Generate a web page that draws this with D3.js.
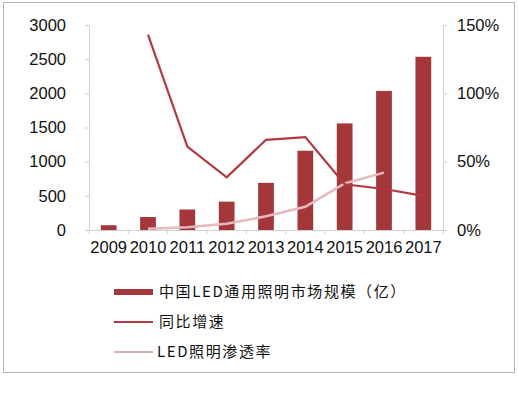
<!DOCTYPE html>
<html>
<head>
<meta charset="utf-8">
<script src="https://cdn.jsdelivr.net/npm/d3@7"></script>
<style>
  body { margin: 0; background: #fff; }
  svg text { font-family: "Liberation Sans", Arial, sans-serif; fill: #111; }
  .legend text { font-family: "Noto Sans CJK SC", sans-serif; letter-spacing: 1.6px; }
</style>
</head>
<body>
<svg id="chart" width="518" height="399"></svg>
<script>
// data
const years = ["2009", "2010", "2011", "2012", "2013", "2014", "2015", "2016", "2017"];
const marketSize = [70, 190, 300, 415, 690, 1160, 1560, 2035, 2535];      // 亿
const growth = [null, 143, 61, 38.5, 66, 68, 33.5, 30, 25];                // %
const penetration = [null, 1, 2, 4.5, 10, 17, 34, 42, null];              // %
const leftTicks = [0, 500, 1000, 1500, 2000, 2500, 3000];
const rightTicks = [0, 50, 100, 150];

const svg = d3.select("#chart");
const x0 = 89, x1 = 443, yTop = 25, yBot = 230;

// outer frame
svg.append("rect")
  .attr("x", 3.5).attr("y", 2.5).attr("width", 511).attr("height", 370)
  .attr("fill", "none").attr("stroke", "#b5b5b5");

const x = d3.scaleBand().domain(years).range([x0, x1]).paddingInner(0.6).paddingOuter(0.3);
const yL = d3.scaleLinear().domain([0, 3000]).range([yBot, yTop]);
const yR = d3.scaleLinear().domain([0, 150]).range([yBot, yTop]);
const cx = d => x(d) + x.bandwidth() / 2;

// left axis
const gl = svg.append("g").attr("transform", `translate(${x0},0)`)
  .call(d3.axisLeft(yL).tickValues(leftTicks).tickFormat(d3.format("d")).tickSize(4).tickPadding(19));
gl.selectAll("line, path").attr("stroke", "#d0d0d0");
gl.selectAll("text").style("font-size", "16.5px").attr("fill", "#111");

// right axis
const gr = svg.append("g").attr("transform", `translate(${x1},0)`)
  .call(d3.axisRight(yR).tickValues(rightTicks).tickFormat(d => d + "%").tickSize(4).tickPadding(10));
gr.selectAll("line, path").attr("stroke", "#d0d0d0");
gr.selectAll("text").style("font-size", "16.5px").attr("fill", "#111");

// bottom axis
const gb = svg.append("g").attr("transform", `translate(0,${yBot})`)
  .call(d3.axisBottom(x).tickSize(0).tickPadding(11));
gb.select("path").attr("stroke", "#d0d0d0");
gb.selectAll("text").style("font-size", "16.5px").attr("fill", "#111");
// small separator ticks between categories
svg.append("g").selectAll("line")
  .data(d3.range(years.length + 1))
  .join("line")
  .attr("x1", i => x0 + i * x.step()).attr("x2", i => x0 + i * x.step())
  .attr("y1", yBot).attr("y2", yBot + 4)
  .attr("stroke", "#d0d0d0");

// bars
svg.append("g").selectAll("rect")
  .data(years)
  .join("rect")
  .attr("x", d => x(d))
  .attr("width", x.bandwidth())
  .attr("y", (d, i) => yL(marketSize[i]))
  .attr("height", (d, i) => yBot - yL(marketSize[i]))
  .attr("fill", "#a3373a");

// lines
const line = d3.line()
  .defined(d => d[1] != null)
  .x(d => cx(d[0]))
  .y(d => yR(d[1]));

svg.append("path")
  .datum(years.map((d, i) => [d, penetration[i]]))
  .attr("d", line)
  .attr("fill", "none")
  .attr("stroke", "#e7b9bc")
  .attr("stroke-width", 2.5);

svg.append("path")
  .datum(years.map((d, i) => [d, growth[i]]))
  .attr("d", line)
  .attr("fill", "none")
  .attr("stroke", "#b4383f")
  .attr("stroke-width", 2.2);

// legend
const legend = svg.append("g").attr("class", "legend");
legend.append("rect").attr("x", 114).attr("y", 289).attr("width", 39).attr("height", 6).attr("fill", "#a3373a");
legend.append("line").attr("x1", 114).attr("x2", 153).attr("y1", 322).attr("y2", 322)
  .attr("stroke", "#b4383f").attr("stroke-width", 2);
legend.append("line").attr("x1", 114).attr("x2", 153).attr("y1", 352).attr("y2", 352)
  .attr("stroke", "#d9aeb1").attr("stroke-width", 2);

const legendLabels = ["中国LED通用照明市场规模（亿）", "同比增速", "LED照明渗透率"];
const legendY = [292, 322, 352];
legend.selectAll("text")
  .data(legendLabels)
  .join("text")
  .attr("x", (d, i) => i === 2 ? 157 : 159)
  .attr("y", (d, i) => legendY[i])
  .attr("dy", "0.35em")
  .style("font-size", "15px")
  .text(d => d);
</script>
</body>
</html>
